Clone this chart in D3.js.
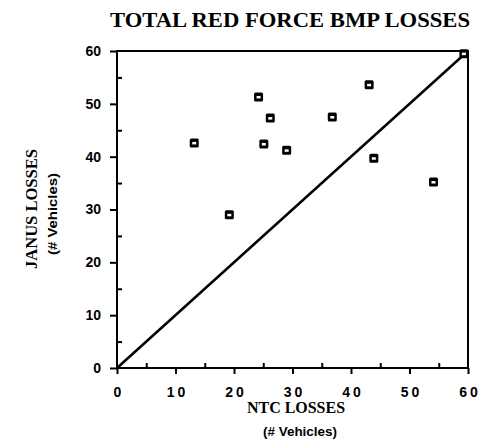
<!DOCTYPE html>
<head>
<meta charset="utf-8">
<script src="https://d3js.org/d3.v7.min.js"></script>
</head>
<body style="margin:0;background:#fff">
<svg width="480" height="448"></svg>
<script>

// NTC vs JANUS losses per battle
let ntc   = [13.2, 19.2, 24.2, 26.2, 25.1, 29.0, 36.8, 43.1, 43.9, 54.1, 59.3];
let janus = [42.6, 29.0, 51.3, 47.3, 42.4, 41.2, 47.5, 53.6, 39.7, 35.2, 59.5];
let ticks = [0, 10, 20, 30, 40, 50, 60];
let minorTicks = [5, 15, 25, 35, 45, 55];

let svg = d3.select("svg");

let x = d3.scaleLinear().domain([0, 60]).range([117, 468]);
let y = d3.scaleLinear().domain([0, 60]).range([368, 51]);

let data = ntc.map(function(d, i) { return {x: d, y: janus[i]}; });

// frame
svg.append("rect")
    .attr("x", x(0)).attr("y", y(60))
    .attr("width", x(60) - x(0)).attr("height", y(0) - y(60))
    .attr("fill", "none").attr("stroke", "#000").attr("stroke-width", 2);

// axes: major ticks outward, minor inward
svg.append("g")
    .attr("transform", "translate(" + x(0) + ",0)")
    .call(d3.axisLeft(y).tickValues(ticks).tickSize(7).tickFormat(""))
    .call(g => g.select(".domain").remove())
    .call(g => g.selectAll("line").attr("stroke-width", 2));

svg.append("g")
    .attr("transform", "translate(" + x(0) + ",0)")
    .call(d3.axisRight(y).tickValues(minorTicks).tickSize(5).tickFormat(""))
    .call(g => g.select(".domain").remove())
    .call(g => g.selectAll("line").attr("stroke-width", 2));

svg.append("g")
    .attr("transform", "translate(0," + y(0) + ")")
    .call(d3.axisBottom(x).tickValues(ticks).tickSize(6).tickFormat(""))
    .call(g => g.select(".domain").remove())
    .call(g => g.selectAll("line").attr("stroke-width", 2));

svg.append("g")
    .attr("transform", "translate(0," + y(0) + ")")
    .call(d3.axisTop(x).tickValues(minorTicks).tickSize(5).tickFormat(""))
    .call(g => g.select(".domain").remove())
    .call(g => g.selectAll("line").attr("stroke-width", 2));

// tick labels
svg.append("g")
    .selectAll("text")
    .data(ticks)
    .enter().append("text")
      .attr("x", 101)
      .attr("y", d => y(d))
      .attr("dy", "0.35em")
      .attr("text-anchor", "end")
      .attr("font-family", "Liberation Sans, sans-serif")
      .attr("font-weight", "bold")
      .attr("font-size", 14)
      .text(d => d);

svg.append("g")
    .selectAll("text")
    .data(ticks)
    .enter().append("text")
      .attr("x", d => x(d) + 2)
      .attr("y", 397)
      .attr("text-anchor", "middle")
      .attr("font-family", "Liberation Sans, sans-serif")
      .attr("font-weight", "bold")
      .attr("font-size", 14)
      .attr("letter-spacing", 3)
      .text(d => d);

// diagonal
svg.append("line")
    .attr("x1", x(0)).attr("y1", y(0))
    .attr("x2", x(60)).attr("y2", y(60))
    .attr("stroke", "#000").attr("stroke-width", 2.5);

// points: dark squares with a small light number inside
let pts = svg.append("g")
    .selectAll("g")
    .data(data)
    .enter().append("g")
      .attr("transform", d => "translate(" + x(d.x) + "," + y(d.y) + ")");

pts.append("rect")
    .attr("x", -4.5).attr("y", -4.5)
    .attr("width", 9).attr("height", 9)
    .attr("rx", 1.5)
    .attr("fill", "#000");

pts.append("rect")
    .attr("x", -2).attr("y", -1)
    .attr("width", 4).attr("height", 2.5)
    .attr("fill", "#fff");

// titles
svg.append("text")
    .attr("x", 290).attr("y", 27)
    .attr("text-anchor", "middle")
    .attr("font-family", "Liberation Serif, serif")
    .attr("font-weight", "bold")
    .attr("font-size", 20)
    .attr("textLength", 360)
    .attr("lengthAdjust", "spacingAndGlyphs")
    .text("TOTAL RED FORCE BMP LOSSES");

svg.append("text")
    .attr("x", 296).attr("y", 413)
    .attr("text-anchor", "middle")
    .attr("font-family", "Liberation Serif, serif")
    .attr("font-weight", "bold")
    .attr("font-size", 16)
    .attr("textLength", 98)
    .attr("lengthAdjust", "spacingAndGlyphs")
    .text("NTC LOSSES");

svg.append("text")
    .attr("x", 300).attr("y", 436)
    .attr("text-anchor", "middle")
    .attr("font-family", "Liberation Sans, sans-serif")
    .attr("font-weight", "bold")
    .attr("font-size", 12)
    .attr("textLength", 74)
    .attr("lengthAdjust", "spacingAndGlyphs")
    .text("(# Vehicles)");

svg.append("text")
    .attr("transform", "translate(37,209)rotate(-90)")
    .attr("text-anchor", "middle")
    .attr("font-family", "Liberation Serif, serif")
    .attr("font-weight", "bold")
    .attr("font-size", 16)
    .attr("textLength", 120)
    .attr("lengthAdjust", "spacingAndGlyphs")
    .text("JANUS LOSSES");

svg.append("text")
    .attr("transform", "translate(57,214)rotate(-90)")
    .attr("text-anchor", "middle")
    .attr("font-family", "Liberation Sans, sans-serif")
    .attr("font-weight", "bold")
    .attr("font-size", 12)
    .attr("textLength", 82)
    .attr("lengthAdjust", "spacingAndGlyphs")
    .text("(# Vehicles)");

</script>
</body>
